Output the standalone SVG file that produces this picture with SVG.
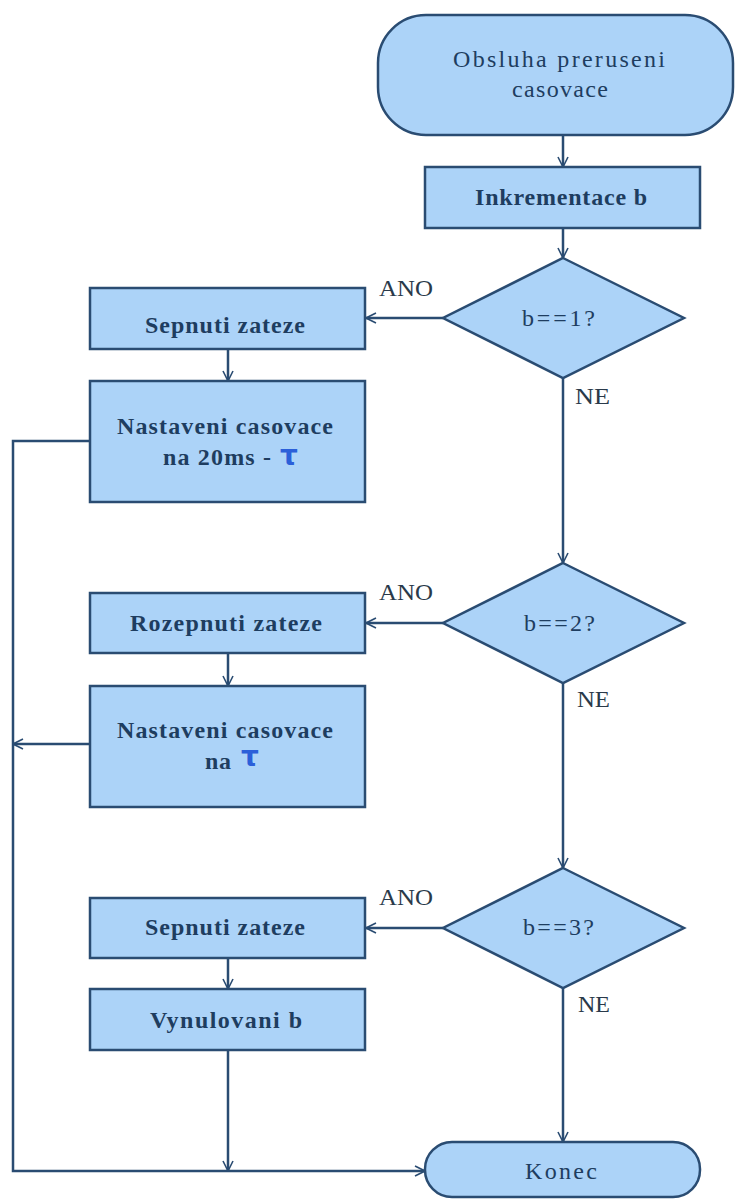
<svg xmlns="http://www.w3.org/2000/svg" width="736" height="1199" viewBox="0 0 736 1199">
<style>
.shape{fill:#acd3f8;stroke:#2a4c72;stroke-width:2.5}
.lbl{font-family:"Liberation Serif","DejaVu Serif",serif;font-size:24px;fill:#1e3d60;font-weight:bold}
.lbr{font-family:"Liberation Serif","DejaVu Serif",serif;font-size:24px;fill:#1e3d60}
.yn{font-family:"Liberation Serif","DejaVu Serif",serif;font-size:23px;fill:#2a3a4a}
.tau{font-family:"DejaVu Sans","Liberation Sans",sans-serif;font-size:28px;font-weight:bold;fill:#2b5fd9}
.con{fill:none;stroke:#2a4c72;stroke-width:2.5}
</style>
<defs>
<marker id="arr" viewBox="0 0 12 12" refX="11" refY="6" markerWidth="12" markerHeight="12" markerUnits="userSpaceOnUse" orient="auto">
<path d="M1,1 L11,6 L1,11" fill="none" stroke="#2a4c72" stroke-width="1.6"/>
</marker>
</defs>
<rect width="736" height="1199" fill="#ffffff"/>
<g id="connectors">
<path class="con" d="M563,135 V167" marker-end="url(#arr)"/>
<path class="con" d="M563,228 V258" marker-end="url(#arr)"/>
<path class="con" d="M443,318 H366" marker-end="url(#arr)"/>
<path class="con" d="M563,378 V563" marker-end="url(#arr)"/>
<path class="con" d="M228,349 V381" marker-end="url(#arr)"/>
<path class="con" d="M443,623 H366" marker-end="url(#arr)"/>
<path class="con" d="M563,683 V868" marker-end="url(#arr)"/>
<path class="con" d="M228,653 V686" marker-end="url(#arr)"/>
<path class="con" d="M443,928 H366" marker-end="url(#arr)"/>
<path class="con" d="M563,988 V1142" marker-end="url(#arr)"/>
<path class="con" d="M228,958 V989" marker-end="url(#arr)"/>
<path class="con" d="M228,1050 V1171" marker-end="url(#arr)"/>
<path class="con" d="M90,441 H13 V1171 H425" marker-end="url(#arr)"/>
<path class="con" d="M90,744 H13" marker-end="url(#arr)"/>
<text class="yn" x="379" y="296" textLength="54" lengthAdjust="spacingAndGlyphs">ANO</text>
<text class="yn" x="575" y="404" textLength="35" lengthAdjust="spacingAndGlyphs">NE</text>
<text class="yn" x="379" y="600" textLength="54" lengthAdjust="spacingAndGlyphs">ANO</text>
<text class="yn" x="577" y="707" textLength="33" lengthAdjust="spacingAndGlyphs">NE</text>
<text class="yn" x="379" y="905" textLength="54" lengthAdjust="spacingAndGlyphs">ANO</text>
<text class="yn" x="578" y="1012" textLength="32" lengthAdjust="spacingAndGlyphs">NE</text>
</g>
<g id="start">
<rect class="shape" x="378" y="15" width="355" height="120" rx="48" ry="48"/>
<text class="lbr" x="453" y="67" textLength="212" lengthAdjust="spacing">Obsluha preruseni</text>
<text class="lbr" x="512" y="97" textLength="96" lengthAdjust="spacing">casovace</text>
</g>
<g id="inkrementace">
<rect class="shape" x="425" y="167" width="275" height="61"/>
<text class="lbl" x="475" y="205" textLength="172" lengthAdjust="spacing">Inkrementace b</text>
</g>
<g id="dec1">
<polygon class="shape" points="563,258 684,318 563,378 443,318"/>
<text class="lbr" x="522" y="326" textLength="73" lengthAdjust="spacing">b==1?</text>
</g>
<g id="sepnuti1">
<rect class="shape" x="90" y="288" width="275" height="61"/>
<text class="lbl" x="145" y="333" textLength="160" lengthAdjust="spacing">Sepnuti zateze</text>
</g>
<g id="nastaveni1">
<rect class="shape" x="90" y="381" width="275" height="121"/>
<text class="lbl" x="117" y="434" textLength="216" lengthAdjust="spacing">Nastaveni casovace</text>
<text class="lbl" x="163" y="465" textLength="108" lengthAdjust="spacing">na 20ms -</text>
<text class="tau" x="280" y="465">τ</text>
</g>
<g id="dec2">
<polygon class="shape" points="563,563 684,623 563,683 443,623"/>
<text class="lbr" x="524" y="631" textLength="71" lengthAdjust="spacing">b==2?</text>
</g>
<g id="rozepnuti">
<rect class="shape" x="90" y="593" width="275" height="60"/>
<text class="lbl" x="130" y="631" textLength="192" lengthAdjust="spacing">Rozepnuti zateze</text>
</g>
<g id="nastaveni2">
<rect class="shape" x="90" y="686" width="275" height="121"/>
<text class="lbl" x="117" y="738" textLength="216" lengthAdjust="spacing">Nastaveni casovace</text>
<text class="lbl" x="205" y="769" textLength="26" lengthAdjust="spacing">na</text>
<text class="tau" x="241" y="766">τ</text>
</g>
<g id="dec3">
<polygon class="shape" points="563,868 684,928 563,988 443,928"/>
<text class="lbr" x="523" y="935" textLength="71" lengthAdjust="spacing">b==3?</text>
</g>
<g id="sepnuti3">
<rect class="shape" x="90" y="898" width="275" height="60"/>
<text class="lbl" x="145" y="935" textLength="160" lengthAdjust="spacing">Sepnuti zateze</text>
</g>
<g id="vynulovani">
<rect class="shape" x="90" y="989" width="275" height="61"/>
<text class="lbl" x="150" y="1028" textLength="152" lengthAdjust="spacing">Vynulovani b</text>
</g>
<g id="konec">
<rect class="shape" x="425" y="1142" width="275" height="55" rx="27" ry="27"/>
<text class="lbr" x="525" y="1179" textLength="72" lengthAdjust="spacing">Konec</text>
</g>
</svg>
